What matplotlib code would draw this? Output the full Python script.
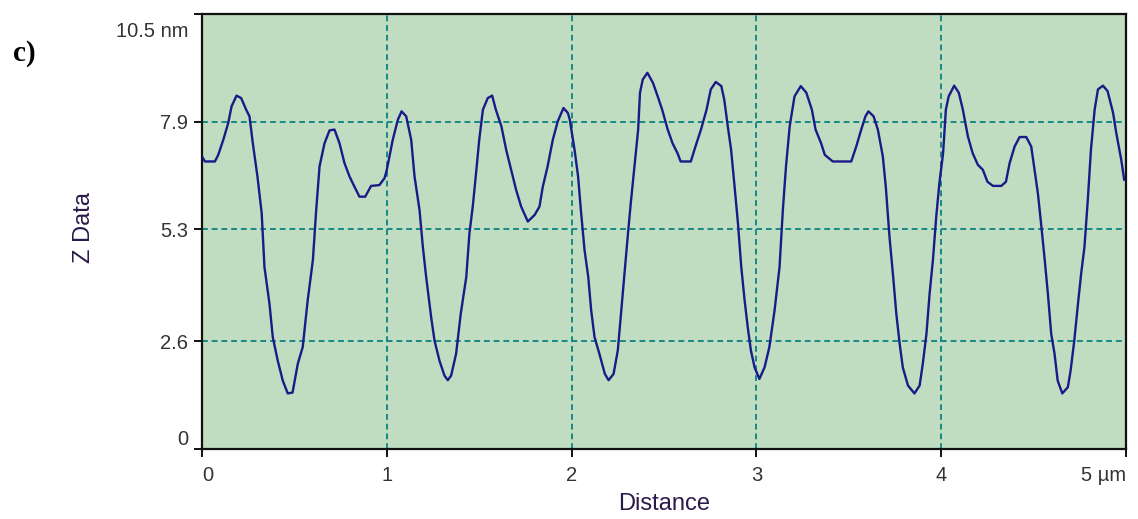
import numpy as np
import matplotlib.pyplot as plt
from matplotlib.transforms import ScaledTranslation

plt.rcParams['font.family'] = ['Liberation Sans', 'DejaVu Sans']

# line profile across the surface: distance (um) vs height (nm)
distance = [
    0.000, 0.016, 0.070, 0.088, 0.115, 0.142, 0.160, 0.187, 0.212, 0.239,
    0.257, 0.275, 0.300, 0.323, 0.338, 0.365, 0.383, 0.410, 0.437, 0.464,
    0.490, 0.518, 0.545, 0.572, 0.600, 0.618, 0.636, 0.663, 0.690, 0.717,
    0.744, 0.771, 0.798, 0.825, 0.852, 0.883, 0.915, 0.960, 0.988, 1.000,
    1.032, 1.060, 1.080, 1.105, 1.132, 1.150, 1.177, 1.195, 1.213, 1.240,
    1.258, 1.285, 1.312, 1.330, 1.348, 1.375, 1.400, 1.430, 1.447, 1.465,
    1.483, 1.500, 1.520, 1.546, 1.570, 1.590, 1.620, 1.646, 1.673, 1.700,
    1.727, 1.763, 1.800, 1.826, 1.844, 1.870, 1.898, 1.925, 1.956, 1.980,
    1.990, 2.016, 2.035, 2.050, 2.070, 2.090, 2.106, 2.124, 2.150, 2.180,
    2.200, 2.227, 2.250, 2.270, 2.286, 2.305, 2.320, 2.340, 2.360, 2.370,
    2.385, 2.410, 2.440, 2.466, 2.490, 2.520, 2.546, 2.573, 2.590, 2.645,
    2.670, 2.700, 2.730, 2.753, 2.780, 2.810, 2.826, 2.845, 2.863, 2.880,
    2.900, 2.918, 2.936, 2.953, 2.970, 2.990, 3.016, 3.044, 3.070, 3.098,
    3.125, 3.143, 3.160, 3.180, 3.206, 3.240, 3.270, 3.300, 3.320, 3.350,
    3.370, 3.413, 3.513, 3.540, 3.567, 3.590, 3.606, 3.634, 3.657, 3.684,
    3.700, 3.720, 3.740, 3.757, 3.775, 3.792, 3.820, 3.855, 3.883, 3.900,
    3.920, 3.937, 3.955, 3.973, 3.990, 4.010, 4.025, 4.040, 4.070, 4.095,
    4.117, 4.144, 4.170, 4.198, 4.225, 4.250, 4.280, 4.325, 4.350, 4.370,
    4.397, 4.424, 4.460, 4.487, 4.505, 4.523, 4.540, 4.560, 4.577, 4.595,
    4.613, 4.630, 4.655, 4.685, 4.700, 4.720, 4.740, 4.757, 4.775, 4.793,
    4.810, 4.830, 4.848, 4.875, 4.900, 4.930, 4.947, 4.974, 4.990,
]
height = [
    7.06, 6.94, 6.94, 7.10, 7.46, 7.87, 8.27, 8.53, 8.47, 8.19,
    8.03, 7.38, 6.58, 5.69, 4.39, 3.51, 2.70, 2.13, 1.65, 1.34,
    1.36, 2.05, 2.46, 3.59, 4.56, 5.77, 6.82, 7.38, 7.69, 7.71,
    7.38, 6.90, 6.58, 6.33, 6.09, 6.09, 6.35, 6.37, 6.54, 6.74,
    7.46, 7.95, 8.15, 8.03, 7.46, 6.58, 5.77, 4.88, 4.15, 3.18,
    2.62, 2.13, 1.77, 1.66, 1.77, 2.30, 3.26, 4.15, 5.20, 5.85,
    6.66, 7.46, 8.19, 8.47, 8.53, 8.19, 7.79, 7.22, 6.74, 6.25,
    5.85, 5.49, 5.65, 5.85, 6.33, 6.82, 7.46, 7.91, 8.23, 8.11,
    7.95, 7.22, 6.58, 5.77, 4.80, 4.15, 3.34, 2.70, 2.30, 1.81,
    1.66, 1.81, 2.38, 3.42, 4.23, 5.20, 5.93, 6.82, 7.71, 8.60,
    8.92, 9.08, 8.84, 8.51, 8.19, 7.71, 7.38, 7.14, 6.94, 6.94,
    7.30, 7.71, 8.19, 8.68, 8.86, 8.76, 8.43, 7.79, 7.22, 6.42,
    5.45, 4.39, 3.59, 2.94, 2.38, 1.97, 1.69, 1.97, 2.46, 3.34,
    4.39, 5.77, 6.82, 7.79, 8.51, 8.76, 8.60, 8.19, 7.71, 7.38,
    7.10, 6.94, 6.94, 7.30, 7.71, 8.03, 8.15, 8.03, 7.71, 7.06,
    6.33, 5.12, 4.15, 3.26, 2.54, 1.97, 1.53, 1.34, 1.53, 2.05,
    2.78, 3.75, 4.56, 5.61, 6.42, 7.14, 8.19, 8.51, 8.77, 8.60,
    8.19, 7.55, 7.14, 6.86, 6.74, 6.45, 6.35, 6.35, 6.45, 6.90,
    7.30, 7.53, 7.53, 7.30, 6.74, 6.17, 5.45, 4.56, 3.75, 2.78,
    2.30, 1.65, 1.34, 1.49, 1.89, 2.62, 3.51, 4.23, 4.88, 6.01,
    7.22, 8.19, 8.68, 8.77, 8.64, 8.11, 7.63, 6.98, 6.50,
]

x_ticks = [0, 1, 2, 3, 4, 5]
x_labels = ['0', '1', '2', '3', '4', '5 \u00b5m']
y_ticks = [0, 2.6, 5.3, 7.9, 10.5]
y_labels = ['0', '2.6', '5.3', '7.9', '10.5 nm']


def profile():
    fig = plt.figure(figsize=(11.38, 5.19), dpi=100)
    ax = fig.add_axes([0.1775, 0.135, 0.812, 0.838])
    ax.set_facecolor('#c1ddc1')

    ax.plot(distance, height, color='#1a1a88', linewidth=1.7, zorder=3)

    ax.set_xlim(0, 5)
    ax.set_ylim(0, 10.5)
    ax.set_xticks(x_ticks)
    ax.set_xticklabels(x_labels)
    ax.set_yticks(y_ticks)
    ax.set_yticklabels(y_labels)

    # dashed grid on the inner ticks only
    for x in x_ticks[1:-1]:
        ax.axvline(x, color='#178a84', linestyle=(0, (3, 2)), linewidth=1.4, zorder=2)
    for y in y_ticks[1:-1]:
        ax.axhline(y, color='#178a84', linestyle=(0, (3, 2)), linewidth=1.4, zorder=2)

    for side in ax.spines.values():
        side.set_color('#111111')
        side.set_linewidth(1.6)

    ax.tick_params(axis='both', direction='out', length=6, width=1.4,
                   colors='#111111', labelsize=14.5, labelcolor='#333333', pad=4)
    ax.tick_params(axis='x', pad=6)

    xl = ax.get_xticklabels()
    xl[0].set_horizontalalignment('left')
    xl[-1].set_horizontalalignment('right')
    yl = ax.get_yticklabels()
    yl[0].set_verticalalignment('bottom')
    yl[-1].set_verticalalignment('top')
    yl[-1].set_transform(yl[-1].get_transform()
                         + ScaledTranslation(0, -6 / 72, fig.dpi_scale_trans))

    ax.set_xlabel('Distance', fontsize=17, color='#2a1a4a', labelpad=6)
    ax.set_ylabel('Z Data', fontsize=17, color='#2a1a4a')
    ax.yaxis.set_label_coords(-0.116, 0.51)

    fig.text(0.011, 0.897, 'c)', fontsize=21, fontweight='bold',
             family='Liberation Serif', va='center', ha='left')

    return plt.savefig('out.png', dpi=100)


if __name__ == '__main__':
    profile()
